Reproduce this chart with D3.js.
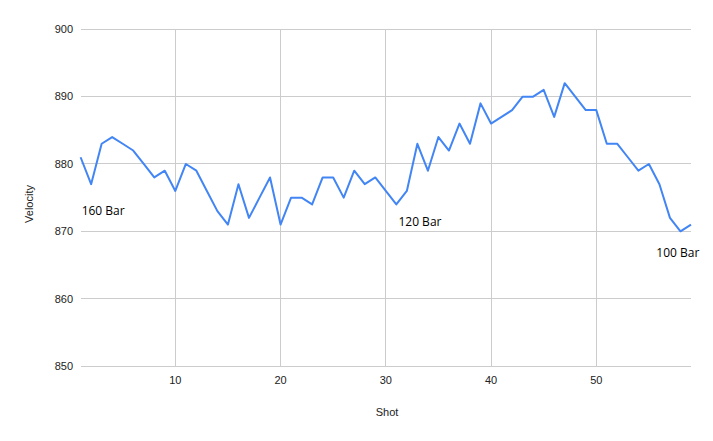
<!DOCTYPE html>
<html><head><meta charset="utf-8">
<script src="https://cdn.jsdelivr.net/npm/d3@7"></script>
<style>body{margin:0;background:#fff}svg{display:block}</style>
</head><body><svg id="c" width="713" height="441"></svg>
<script>
const shots = d3.range(1, 60);
const velocity = [881,877,883,884,883,882,880,878,879,876,880,879,876,873,871,877,872,875,878,871,
875,875,874,878,878,875,879,877,878,876,874,876,883,879,884,882,886,883,889,886,
887,888,890,890,891,887,892,890,888,888,883,883,881,879,880,877,872,870,871];
const xTicks = [10,20,30,40,50];
const yTicks = [850,860,870,880,890,900];
const annLabels = ["160 Bar","120 Bar","100 Bar"];
const annShots = [1.1,31.2,55.7];
const annValues = [872.4,870.8,866.2];

const svg = d3.select("#c");
const x = d3.scaleLinear().domain([1,59]).range([80.6,691]);
const y = d3.scaleLinear().domain([850,900]).range([366,29.3]);
const font = "'Liberation Sans', Arial, sans-serif";

// gridlines
svg.append("g").selectAll("line").data(yTicks).join("line")
  .attr("x1", x(1)).attr("x2", x(59)).attr("y1", d=>y(d)).attr("y2", d=>y(d))
  .attr("stroke", "#cccccc").attr("stroke-width", 1).attr("shape-rendering","crispEdges");
svg.append("g").selectAll("line").data(xTicks).join("line")
  .attr("x1", d=>x(d)).attr("x2", d=>x(d)).attr("y1", y(850)).attr("y2", y(900))
  .attr("stroke", "#cccccc").attr("stroke-width", 1).attr("shape-rendering","crispEdges");

// axes labels
svg.append("g").selectAll("text").data(yTicks).join("text")
  .attr("x", 73).attr("y", d=>y(d)).attr("dy","0.35em").attr("text-anchor","end")
  .attr("font-family", font).attr("font-size", 11).attr("fill","#222").text(d=>d);
svg.append("g").selectAll("text").data(xTicks).join("text")
  .attr("x", d=>x(d)).attr("y", 384).attr("text-anchor","middle")
  .attr("font-family", font).attr("font-size", 11).attr("fill","#222").text(d=>d);

svg.append("text").attr("x", 387).attr("y", 416).attr("text-anchor","middle")
  .attr("font-family", font).attr("font-size", 11).attr("fill","#222").text("Shot");
svg.append("text").attr("transform","translate(33,204) rotate(-90)").attr("text-anchor","middle")
  .attr("font-family", font).attr("font-size", 11).attr("fill","#222").text("Velocity");

// line
const line = d3.line().x((d,i)=>x(shots[i])).y(d=>y(d));
svg.append("path").datum(velocity).attr("d", line).attr("fill","none")
  .attr("stroke","#4285f4").attr("stroke-width",2).attr("stroke-linejoin","round");

// annotations
svg.append("g").selectAll("text").data(annLabels).join("text")
  .attr("x",(d,i)=>x(annShots[i])).attr("y",(d,i)=>y(annValues[i]))
  .attr("font-family","'Open Sans', sans-serif").attr("font-size",12).attr("fill","#000").text(d=>d);
</script></body></html>
